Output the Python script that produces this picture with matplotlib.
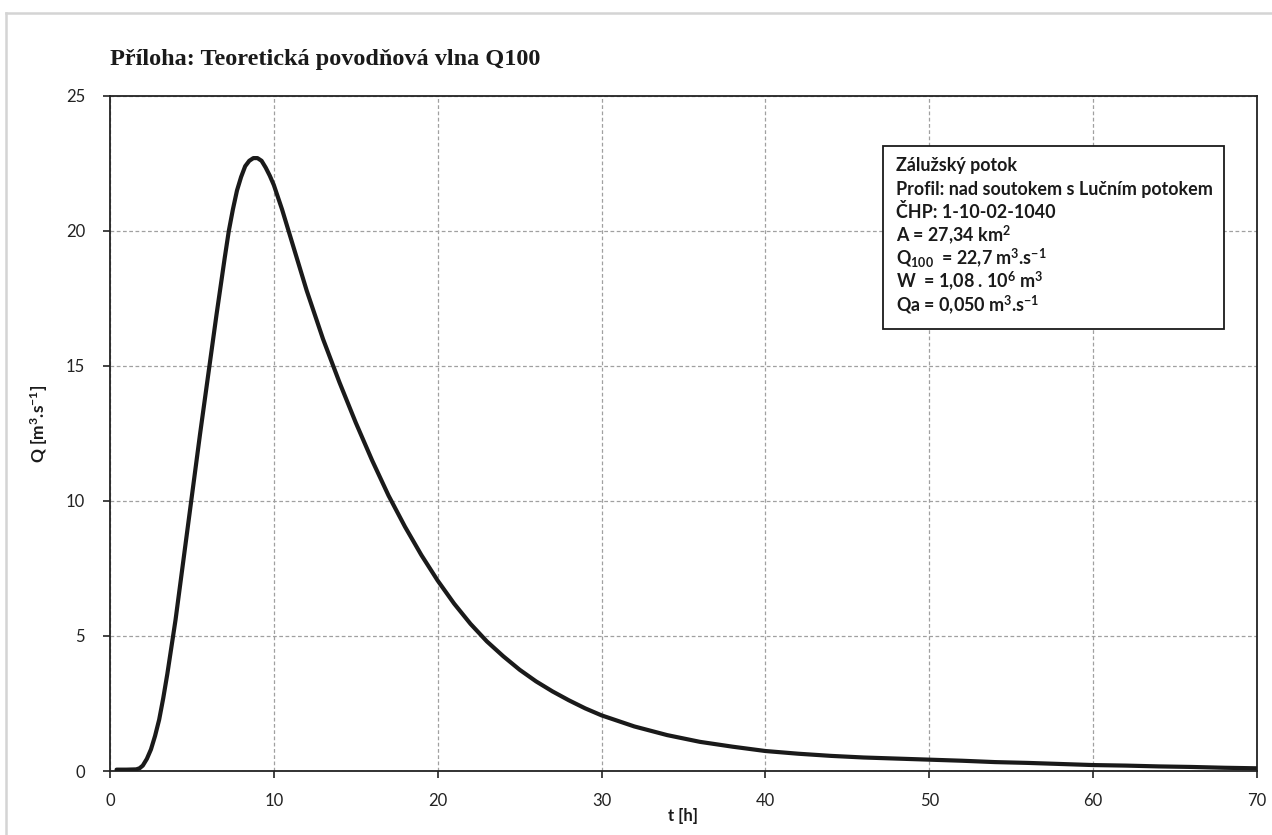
import matplotlib
matplotlib.use("Agg")
import matplotlib.pyplot as plt
from matplotlib.lines import Line2D
from matplotlib.patches import Rectangle

plt.rcParams['font.family'] = ['Lato', 'DejaVu Sans']
plt.rcParams['mathtext.fontset'] = 'custom'
plt.rcParams['mathtext.rm'] = 'Lato'
plt.rcParams['mathtext.bf'] = 'Lato:bold'
plt.rcParams['mathtext.it'] = 'Lato:italic'

# hydrograph: t [h], Q [m3/s]
t_hours = [0.4, 1.0, 1.6, 1.8, 2.0, 2.25, 2.5, 2.75, 3.0, 3.25, 3.5, 3.75, 4.0,
           4.5, 5.0, 5.5, 6.0, 6.5, 7.0, 7.25, 7.5, 7.75, 8.0, 8.25, 8.5, 8.75,
           9.0, 9.25, 9.5, 9.75, 10.0, 10.25, 10.5, 10.75, 11.0, 11.5, 12.0,
           13.0, 14.0, 15.0, 16.0, 17.0, 18.0, 19.0, 20.0, 21.0, 22.0, 23.0,
           24.0, 25.0, 26.0, 27.0, 28.0, 29.0, 30.0, 32.0, 34.0, 36.0, 38.0,
           40.0, 42.0, 44.0, 46.0, 48.0, 50.0, 52.0, 54.0, 56.0, 58.0, 60.0,
           62.0, 64.0, 66.0, 68.0, 70.0]
q_flow = [0.05, 0.05, 0.06, 0.1, 0.2, 0.45, 0.8, 1.3, 1.9, 2.7, 3.6, 4.6, 5.6,
          7.9, 10.2, 12.5, 14.7, 16.9, 19.0, 20.0, 20.8, 21.5, 22.0, 22.4, 22.6,
          22.7, 22.7, 22.6, 22.35, 22.05, 21.7, 21.25, 20.8, 20.3, 19.8, 18.8,
          17.8, 16.0, 14.4, 12.9, 11.5, 10.2, 9.05, 8.0, 7.05, 6.2, 5.45, 4.8,
          4.25, 3.75, 3.32, 2.95, 2.62, 2.32, 2.06, 1.65, 1.33, 1.08, 0.9, 0.74,
          0.64, 0.56, 0.5, 0.46, 0.42, 0.38, 0.33, 0.3, 0.26, 0.22, 0.2, 0.17,
          0.15, 0.12, 0.1]

x_ticks = [0, 10, 20, 30, 40, 50, 60, 70]
y_ticks = [0, 5, 10, 15, 20, 25]

info_lines = [
    r'Zálužský potok',
    r'Profil: nad soutokem s Lučním potokem',
    r'ČHP: 1-10-02-1040',
    r'A = 27,34 km$^{\mathbf{2}}$',
    r'Q$_{\mathbf{100}}$  = 22,7 m$^{\mathbf{3}}$.s$^{\mathbf{-1}}$',
    r'W  = 1,08 . 10$^{\mathbf{6}}$ m$^{\mathbf{3}}$',
    r'Qa = 0,050 m$^{\mathbf{3}}$.s$^{\mathbf{-1}}$',
]

W, H = 1272, 835
fig = plt.figure(figsize=(W / 100, H / 100), dpi=100)
ax = fig.add_axes([110 / W, 1 - 771 / H, (1257 - 110) / W, (771 - 96) / H])

ax.plot(t_hours, q_flow, color='#1a1a1a', linewidth=3.0, solid_capstyle='round',
        solid_joinstyle='round', zorder=3)

ax.set_xlim(0, 70)
ax.set_ylim(0, 25)
ax.set_xticks(x_ticks)
ax.set_yticks(y_ticks)
ax.grid(True, color='#a0a0a0', linestyle=(0, (3, 2)), linewidth=0.9)
ax.tick_params(direction='out', length=5, width=1.2, colors='#222222', labelsize=12)
ax.tick_params(axis='x', pad=11)
ax.tick_params(axis='y', pad=13)
for s in ax.spines.values():
    s.set_linewidth(1.3)
    s.set_color('#222222')

fig.text(683 / W, 1 - 816 / H, 't [h]', fontsize=12, fontweight='bold',
         ha='center', va='center', color='#1a1a1a')
fig.text(39 / W, 1 - 424 / H, r'Q [m$^{\mathbf{3}}$.s$^{\mathbf{-1}}$]', fontsize=12.5,
         fontweight='bold', rotation=90, ha='center', va='center', color='#1a1a1a')

fig.text(110 / W, 1 - 65 / H, 'Příloha: Teoretická povodňová vlna Q100',
         fontsize=17.5, fontweight='bold', family='Liberation Serif', va='baseline',
         color='#1a1a1a')

# info box
box = Rectangle((883 / W, 1 - 329 / H), (1224 - 883) / W, (329 - 146) / H,
                transform=fig.transFigure, facecolor='white', edgecolor='#1a1a1a',
                linewidth=1.3, zorder=5)
fig.patches.append(box)
for i, line in enumerate(info_lines):
    fig.text(896 / W, 1 - (166 + i * 23.2) / H, line, fontsize=12.9, fontweight='bold',
             va='center', color='#1a1a1a', zorder=6)

# light outer frame
fig.add_artist(Line2D([6 / W, 1], [1 - 12.5 / H, 1 - 12.5 / H], transform=fig.transFigure,
                      color='#d4d4d4', linewidth=1.8))
fig.add_artist(Line2D([6 / W, 6 / W], [0, 1 - 12.5 / H], transform=fig.transFigure,
                      color='#d4d4d4', linewidth=1.8))

fig.savefig('out.png', dpi=100)
